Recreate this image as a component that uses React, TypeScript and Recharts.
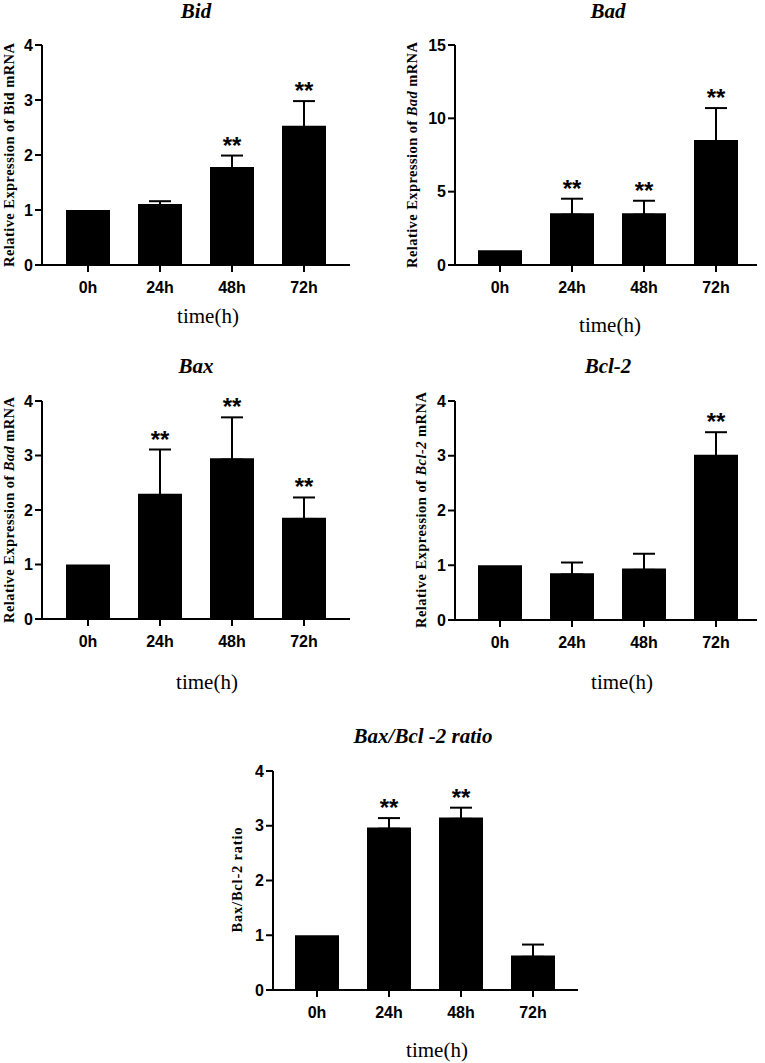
import React from "react";
import { BarChart, Bar, XAxis, YAxis, ErrorBar, LabelList } from "recharts";

const times = ["0h", "24h", "48h", "72h"];

const bidMean = [1, 1.11, 1.78, 2.53];
const bidErr = [0, 0.05, 0.21, 0.45];
const bidSig = [false, false, true, true];

const badMean = [1, 3.52, 3.52, 8.52];
const badErr = [0, 1.0, 0.86, 2.18];
const badSig = [false, true, true, true];

const baxMean = [1, 2.3, 2.95, 1.86];
const baxErr = [0, 0.81, 0.75, 0.37];
const baxSig = [false, true, true, true];

const bclMean = [1, 0.855, 0.94, 3.02];
const bclErr = [0, 0.195, 0.27, 0.41];
const bclSig = [false, false, false, true];

const ratioMean = [1, 2.97, 3.15, 0.63];
const ratioErr = [0, 0.17, 0.18, 0.2];
const ratioSig = [false, true, true, false];

const ticksTo4 = [0, 1, 2, 3, 4];
const ticksTo15 = [0, 5, 10, 15];

const SANS = "'Liberation Sans', Arial, sans-serif";
const SERIF = "'Liberation Serif', 'Times New Roman', serif";

type PanelProps = {
  title: string;
  yLabel: [string, string, string];
  yLabelLen: number;
  means: number[];
  errs: number[];
  sigs: boolean[];
  ticks: number[];
  axisX: number;
  top: number;
  bottom: number;
  right: number;
  firstCenter: number;
  titleX: number;
  titleY: number;
  yLabelX: number;
  yLabelY: number;
  xLabelX: number;
  xLabelY: number;
};

function Panel(p: PanelProps) {
  const mt = 60;
  const L = Math.max(0, p.axisX - 55);
  const T = p.top - mt;
  const W = p.right - L + 8;
  const H = p.bottom - T + 82;
  const xAxisH = 30;
  const band = 72;
  const padL = p.firstCenter - band / 2 - p.axisX;
  const padR = p.right - (p.firstCenter + 3 * band) - band / 2;
  const yMax = p.ticks[p.ticks.length - 1];
  // lower whisker kept just inside the bar so only the upper half shows
  const inside = yMax * 0.006;

  const data = times.map((t, i) => ({
    time: t,
    mean: p.means[i],
    err: p.errs[i] > 0 ? [inside, p.errs[i]] : null,
    sig: p.sigs[i],
  }));

  const renderStars = (props: any) => {
    const vb = props.viewBox ?? props;
    const d = data.find((e) => e.time === props.value);
    if (!d || !d.sig) return null;
    const up = d.err ? d.err[1] : 0;
    const base = vb.y + vb.height;
    const cap = base - (d.mean + up) * (vb.height / d.mean);
    return (
      <text
        x={vb.x + vb.width / 2}
        y={cap - 2}
        textAnchor="middle"
        fontFamily={SANS}
        fontWeight={700}
        fontSize={24}
        fill="#000"
      >
        **
      </text>
    );
  };

  const tickStyle = { fill: "#000", fontFamily: SANS, fontWeight: 700, fontSize: 16 };

  return (
    <div style={{ position: "absolute", left: L, top: T, width: W, height: H }}>
      <BarChart
        width={W}
        height={H}
        data={data}
        margin={{ top: mt, right: 8, bottom: H - (p.bottom - T) - xAxisH, left: 0 }}
      >
        <XAxis
          dataKey="time"
          height={xAxisH}
          padding={{ left: padL, right: padR }}
          axisLine={{ stroke: "#000", strokeWidth: 2 }}
          tickLine={{ stroke: "#000", strokeWidth: 2 }}
          tickSize={7}
          tickMargin={10}
          tick={tickStyle}
        />
        <YAxis
          width={p.axisX - L}
          domain={[0, yMax]}
          ticks={p.ticks}
          interval={0}
          axisLine={{ stroke: "#000", strokeWidth: 2 }}
          tickLine={{ stroke: "#000", strokeWidth: 2 }}
          tickSize={7}
          tickMargin={2}
          tick={tickStyle}
        />
        <Bar dataKey="mean" fill="#000" barSize={44} isAnimationActive={false}>
          <ErrorBar dataKey="err" width={11} stroke="#000" strokeWidth={2} direction="y" />
          <LabelList dataKey="time" content={renderStars} />
        </Bar>
        <text
          x={p.titleX - L}
          y={p.titleY - T}
          textAnchor="middle"
          fontFamily={SERIF}
          fontWeight={700}
          fontStyle="italic"
          fontSize={21}
          fill="#000"
        >
          {p.title}
        </text>
        <text
          x={p.yLabelX - L}
          y={p.yLabelY - T}
          transform={`rotate(-90 ${p.yLabelX - L} ${p.yLabelY - T})`}
          textAnchor="middle"
          dominantBaseline="central"
          fontFamily={SERIF}
          fontWeight={700}
          fontSize={14.5}
          fill="#000"
          textLength={p.yLabelLen}
          lengthAdjust="spacing"
        >
          {p.yLabel[0]}
          {p.yLabel[1] ? <tspan fontStyle="italic">{p.yLabel[1]}</tspan> : null}
          {p.yLabel[2]}
        </text>
        <text
          x={p.xLabelX - L}
          y={p.xLabelY - T}
          textAnchor="middle"
          fontFamily={SERIF}
          fontSize={21}
          fill="#000"
        >
          time(h)
        </text>
      </BarChart>
    </div>
  );
}

export default function App() {
  return (
    <div
      style={{
        position: "absolute",
        left: 0,
        top: 0,
        width: 765,
        height: 1063,
        overflow: "hidden",
        background: "#fff",
      }}
    >
      <Panel
        title="Bid"
        yLabel={["Relative Expression of Bid mRNA", "", ""]}
        yLabelLen={224}
        means={bidMean}
        errs={bidErr}
        sigs={bidSig}
        ticks={ticksTo4}
        axisX={42}
        top={45}
        bottom={265}
        right={350}
        firstCenter={88}
        titleX={196}
        titleY={18}
        yLabelX={9}
        yLabelY={155}
        xLabelX={208}
        xLabelY={323}
      />
      <Panel
        title="Bad"
        yLabel={["Relative Expression of ", "Bad", " mRNA"]}
        yLabelLen={226}
        means={badMean}
        errs={badErr}
        sigs={badSig}
        ticks={ticksTo15}
        axisX={455}
        top={45}
        bottom={265}
        right={757}
        firstCenter={500}
        titleX={608}
        titleY={18}
        yLabelX={412}
        yLabelY={155}
        xLabelX={610}
        xLabelY={332}
      />
      <Panel
        title="Bax"
        yLabel={["Relative Expression of ", "Bad", " mRNA"]}
        yLabelLen={226}
        means={baxMean}
        errs={baxErr}
        sigs={baxSig}
        ticks={ticksTo4}
        axisX={42}
        top={401}
        bottom={619}
        right={350}
        firstCenter={88}
        titleX={196}
        titleY={373}
        yLabelX={9}
        yLabelY={510}
        xLabelX={207}
        xLabelY={689}
      />
      <Panel
        title="Bcl-2"
        yLabel={["Relative Expression of ", "Bcl-2", " mRNA"]}
        yLabelLen={236}
        means={bclMean}
        errs={bclErr}
        sigs={bclSig}
        ticks={ticksTo4}
        axisX={455}
        top={401}
        bottom={620}
        right={757}
        firstCenter={500}
        titleX={608}
        titleY={373}
        yLabelX={421}
        yLabelY={510}
        xLabelX={622}
        xLabelY={689}
      />
      <Panel
        title="Bax/Bcl -2 ratio"
        yLabel={["Bax/Bcl-2 ratio", "", ""]}
        yLabelLen={105}
        means={ratioMean}
        errs={ratioErr}
        sigs={ratioSig}
        ticks={ticksTo4}
        axisX={273}
        top={771}
        bottom={990}
        right={578}
        firstCenter={317}
        titleX={423}
        titleY={743}
        yLabelX={237}
        yLabelY={880}
        xLabelX={437}
        xLabelY={1057}
      />
    </div>
  );
}
